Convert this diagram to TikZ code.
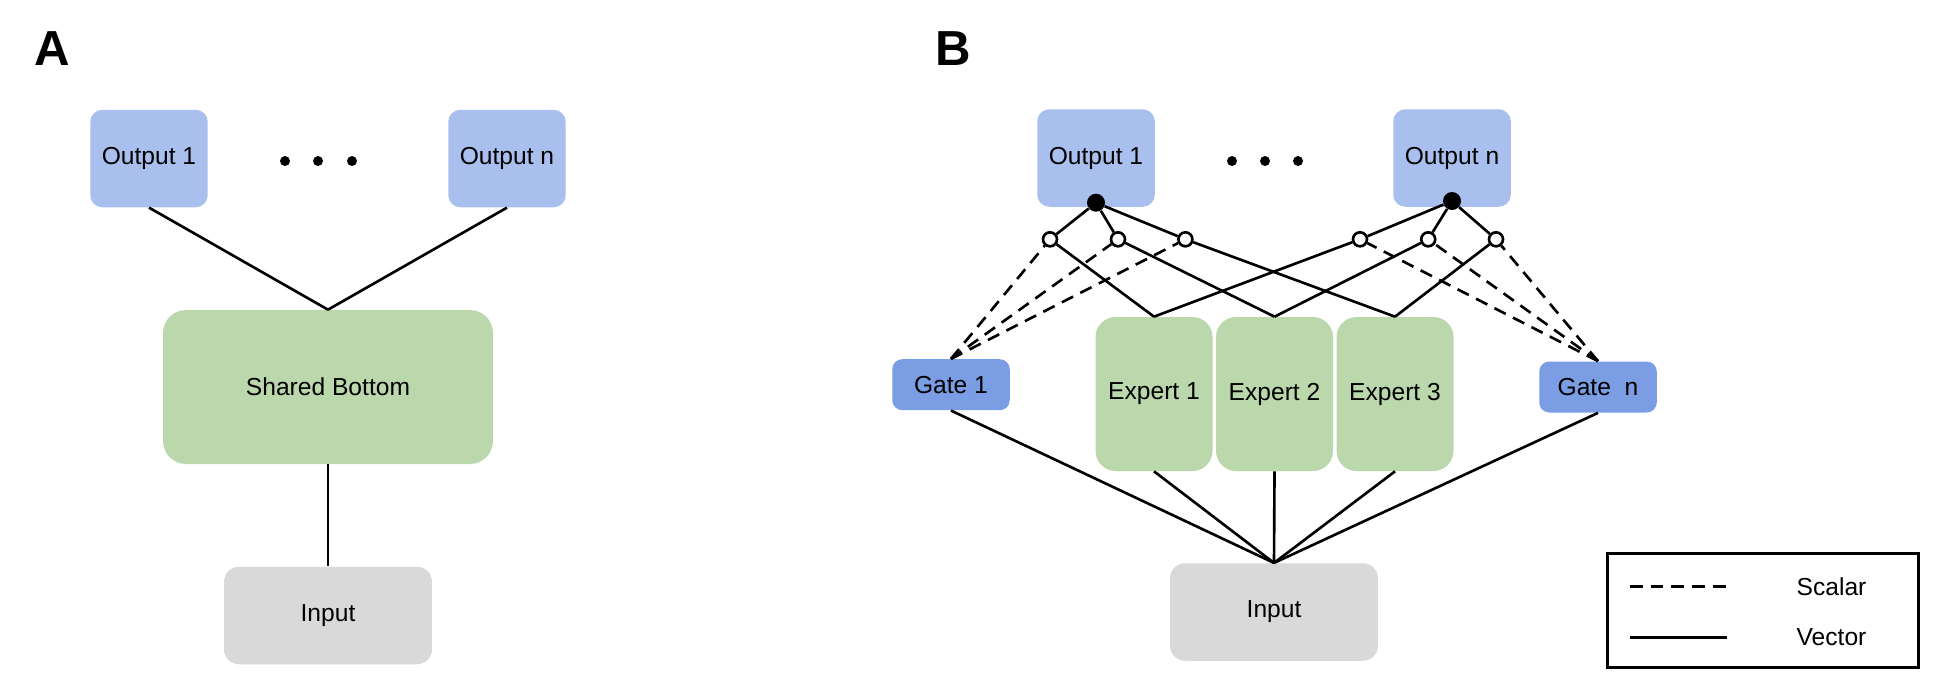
\documentclass[tikz,border=0pt]{standalone}
\usepackage{fontspec}
\setmainfont{Liberation Sans}
\definecolor{outblue}{HTML}{A9C0EE}
\definecolor{gateblue}{HTML}{7A9DE3}
\definecolor{expgreen}{HTML}{BBD7AC}
\definecolor{ingray}{HTML}{D9D9D9}
\begin{document}
\begin{tikzpicture}[x=0.02cm,y=-0.02cm,
    every node/.style={font=\fontsize{14}{16}\selectfont},
    box/.style={rounded corners=0.24cm, inner sep=0pt},
    outbox/.style={box, fill=outblue, minimum width=2.35cm, minimum height=1.95cm},
    inbox/.style={box, fill=ingray, rounded corners=0.3cm, minimum width=4.16cm, minimum height=1.95cm},
    expbox/.style={box, fill=expgreen, rounded corners=0.4cm, minimum width=2.34cm, minimum height=3.08cm},
    gatebox/.style={box, fill=gateblue, rounded corners=0.2cm, minimum width=2.35cm, minimum height=1.02cm},
    panel/.style={font=\fontsize{28}{30}\selectfont\bfseries},
    link/.style={line width=1.5pt},
    scal/.style={line width=1.5pt, dash pattern=on 7.2pt off 4.6pt},
    fdot/.style={circle, fill=black, minimum size=0.36cm, inner sep=0pt},
    odot/.style={circle, draw, fill=white, line width=1.5pt, minimum size=0.28cm, inner sep=0pt},
    ldot/.style={circle, fill=black, minimum size=0.2cm, inner sep=0pt}]
    \useasboundingbox[fill=white] (0,0) rectangle (1946,698);

    % panel A: shared bottom
    \node[panel] (labA) at (52,49) {A};
    \node[outbox] (out1A) at (149,158.5) {Output 1};
    \node[outbox] (outnA) at (507,158.5) {Output n};
    \node[ldot] (dA1) at (285,161) {};
    \node[ldot] (dA2) at (318,161) {};
    \node[ldot] (dA3) at (352,161) {};
    \node[box, fill=expgreen, rounded corners=0.46cm, minimum width=6.6cm, minimum height=3.08cm] (shared) at (328,387) {Shared Bottom};
    \node[inbox] (inA) at (328,615.5) {Input};
    \draw[link] (out1A.south) -- (shared.north);
    \draw[link] (outnA.south) -- (shared.north);
    \draw[link] (shared.south) -- (inA.north);

    % panel B: gated experts
    \node[panel] (labB) at (953,49) {B};
    \node[outbox] (out1B) at (1096,158) {Output 1};
    \node[outbox] (outnB) at (1452,158) {Output n};
    \node[ldot] (dB1) at (1232,161) {};
    \node[ldot] (dB2) at (1265,161) {};
    \node[ldot] (dB3) at (1298,161) {};
    \node[expbox] (e1) at (1154,394) {Expert 1};
    \node[expbox] (e2) at (1274.5,394) {Expert 2};
    \node[expbox] (e3) at (1395,394) {Expert 3};
    \node[gatebox] (g1) at (951,384.7) {Gate 1};
    \node[gatebox] (gn) at (1598,387) {Gate\ \ n};
    \node[inbox] (inB) at (1274,612) {Input};
    \node[fdot] (f1) at (1096,202.7) {};
    \node[fdot] (fn) at (1452,201) {};
    \node[odot] (c11) at (1050,239.3) {};
    \node[odot] (c12) at (1118,239.3) {};
    \node[odot] (c13) at (1185.4,239.3) {};
    \node[odot] (cn1) at (1360,239.3) {};
    \node[odot] (cn2) at (1428.2,239.3) {};
    \node[odot] (cn3) at (1496,239.3) {};
    \foreach \k in {1,2,3} {
        \draw[link] (f1) -- (c1\k);
        \draw[link] (fn) -- (cn\k);
        \draw[link] (c1\k) -- (e\k.north);
        \draw[link] (cn\k) -- (e\k.north);
        \draw[scal] (g1.north) -- (c1\k);
        \draw[scal] (gn.north) -- (cn\k);
        \draw[link] (e\k.south) -- (inB.north);
    }
    \draw[link] (g1.south) -- (inB.north);
    \draw[link] (gn.south) -- (inB.north);

    % legend
    \node[draw, line width=1.5pt, minimum width=6.22cm, minimum height=2.28cm, inner sep=0pt] (legend) at (1763,610.5) {};
    \coordinate (sc0) at (1630,586.7);
    \coordinate (sc1) at (1727,586.7);
    \coordinate (ve0) at (1630,637.3);
    \coordinate (ve1) at (1727,637.3);
    \draw[scal] (sc0) -- (sc1);
    \draw[link, line width=1.8pt] (ve0) -- (ve1);
    \node (scalar) at (1831.5,586.7) {Scalar};
    \node (vector) at (1831.5,637.3) {Vector};
\end{tikzpicture}
\end{document}
